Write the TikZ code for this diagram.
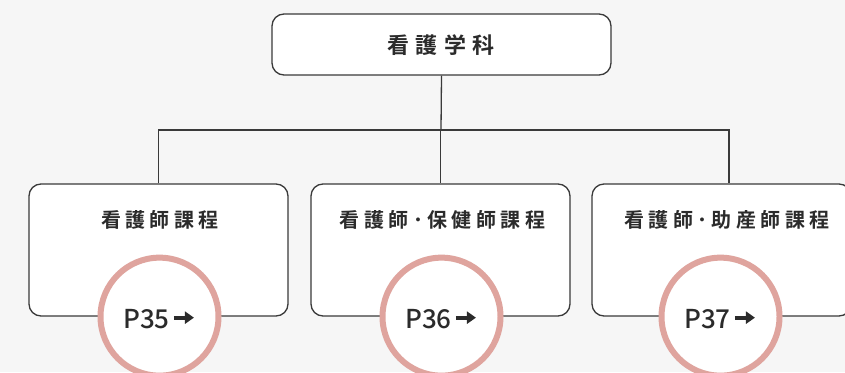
\documentclass[tikz,border=0pt]{standalone}
\usepackage{fontspec}
\setmainfont{Noto Sans CJK JP}[BoldFont={Noto Sans CJK JP Bold}]
\newfontfamily\pagefont{Noto Sans CJK JP Medium}
\usetikzlibrary{
    positioning,
    arrows.meta,
    calc
}
\definecolor{bgcol}{HTML}{F6F6F6}
\definecolor{linecol}{HTML}{3A3A3A}
\definecolor{ringcol}{HTML}{DFA49E}
\definecolor{textcol}{HTML}{2B2B2B}
\tikzset{
    box/.style={draw=linecol, line width=1.3pt, fill=white, rounded corners=12pt, inner sep=0pt},
    course/.style={box, minimum width=259pt, minimum height=132pt},
    title/.style={text=textcol, font=\fontsize{20}{20}\selectfont\bfseries\addfontfeature{LetterSpace=22}},
    ring/.style={circle, draw=ringcol, line width=6pt, fill=white, minimum size=118pt, inner sep=0pt},
    page/.style={text=textcol, font=\pagefont\fontsize{26}{26}\selectfont, inner sep=0pt},
    link/.style={draw=linecol, line width=1.3pt}
}

\begin{document}
\begin{tikzpicture}[x=1pt, y=-1pt]
            % Background
            \fill[bgcol] (0,0) rectangle (845,372);
            \useasboundingbox (0,0) rectangle (845,372);

            % Top box
            \node[box, minimum width=339pt, minimum height=61pt] (dept) at (441.5,44.5) {};
            \node[title, font=\fontsize{22}{22}\selectfont\bfseries\addfontfeature{LetterSpace=30}] (deptlabel) at (441,45) {看護学科};

            % Course boxes
            \node[course] (nurse) at (158.5,250) {};
            \node[course] (health) at (440.5,250) {};
            \node[course] (midwife) at (721.5,250) {};

            % Tree lines
            \coordinate (split) at (441,130);
            \draw[link] (dept.south) -- (split);
            \draw[link] (nurse.north) |- (split) -| (health.north);
            \draw[link] (split) -| ($(midwife.north)+(7.5,0)$);

            % Course names
            \node[title] (nurselabel) at (160,220) {看護師課程};
            \node[title] (healthlabel) at (442.5,220) {看護師･保健師課程};
            \node[title] (midwifelabel) at (727,220) {看護師･助産師課程};

            % Page rings
            \node[ring] (ringa) at ($(nurse.south)+(1,0)$) {};
            \node[ring] (ringb) at ($(health.south)+(1,0)$) {};
            \node[ring] (ringc) at ($(midwife.south)+(-1,0)$) {};

            % Page numbers
            \node[page] (pa) at ($(ringa.center)+(-13,2)$) {P35};
            \node[page] (pb) at ($(ringb.center)+(-13,2)$) {P36};
            \node[page] (pc) at ($(ringc.center)+(-13,2)$) {P37};
            \foreach \p in {pa,pb,pc}
                \draw[textcol, line width=4pt, -{Triangle[length=9pt,width=12pt]}] ([xshift=4pt,yshift=1pt]\p.east) -- ++(20pt,0);
          \end{tikzpicture}
\end{document}
